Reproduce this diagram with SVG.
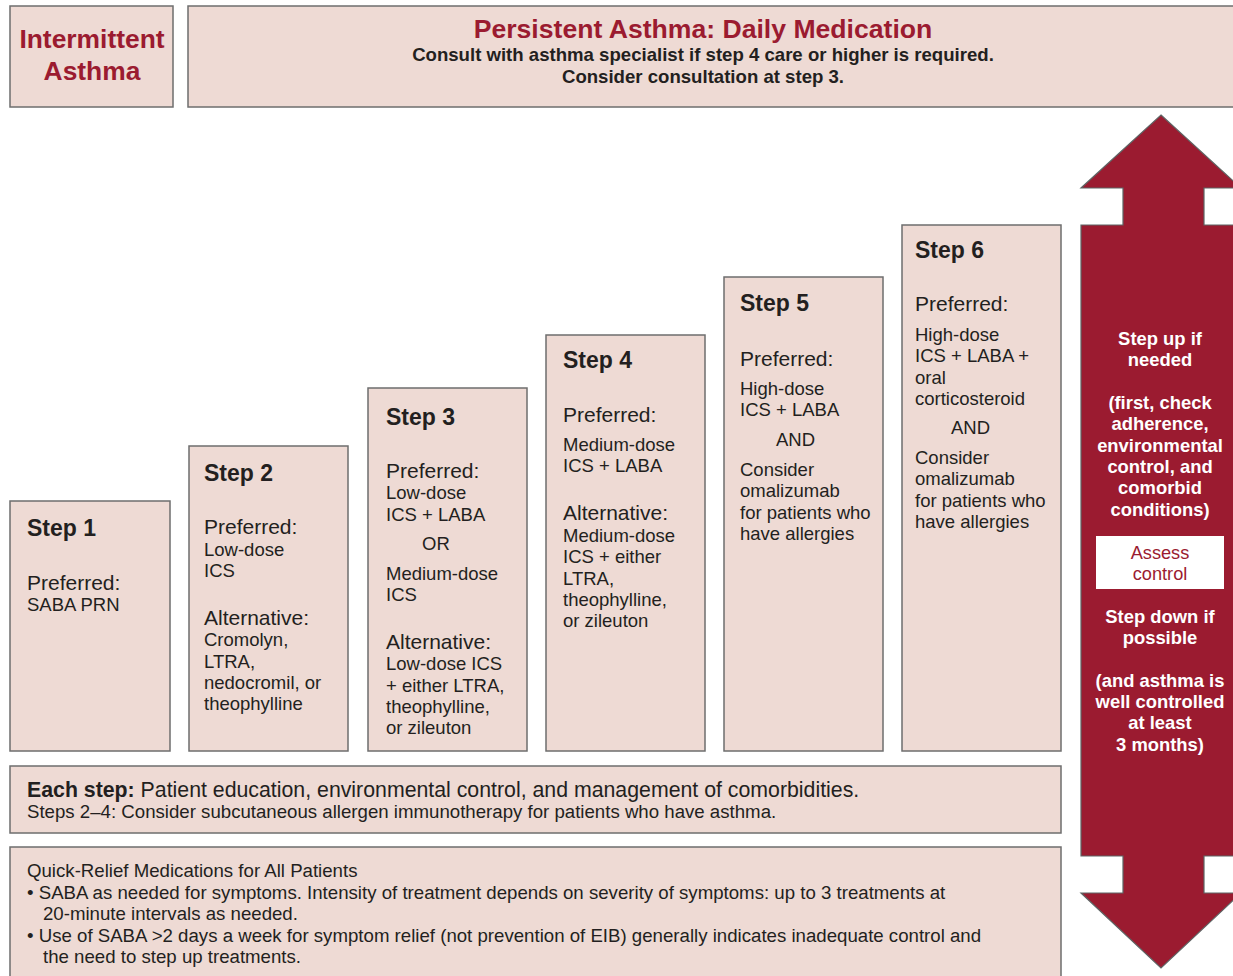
<svg xmlns="http://www.w3.org/2000/svg" width="1233" height="976" viewBox="0 0 1233 976">
<style>
.box{fill:#eedad4;stroke:#6e6e6e;stroke-width:1.5}
text{font-family:"Liberation Sans",Arial,sans-serif;fill:#231f20}
.red{fill:#9b1b30}
.h{font-weight:bold;font-size:23px}
.lbl{font-size:21px}
.t{font-size:18.5px}
.w{fill:#ffffff;font-weight:bold;font-size:18.4px;text-anchor:middle}
.s{font-size:18.65px}
</style>
<rect width="1233" height="976" fill="#ffffff"/>
<g id="intermittent">
<rect class="box" x="10" y="6" width="163" height="101"/>
<text class="red" x="92" y="48" font-size="26.4" font-weight="bold" text-anchor="middle">Intermittent</text>
<text class="red" x="92" y="80" font-size="26.4" font-weight="bold" text-anchor="middle">Asthma</text>
</g>
<g id="persistent">
<rect class="box" x="188" y="6" width="1050" height="101"/>
<text class="red" x="703" y="38" font-size="26.6" font-weight="bold" text-anchor="middle">Persistent Asthma: Daily Medication</text>
<text x="703" y="61" font-size="18.6" font-weight="bold" text-anchor="middle">Consult with asthma specialist if step 4 care or higher is required.</text>
<text x="703" y="83" font-size="18.6" font-weight="bold" text-anchor="middle">Consider consultation at step 3.</text>
</g>
<g id="arrow">
<path d="M1161,115 L1241,188 L1204,188 L1204,225 L1241,225 L1241,856 L1204,856 L1204,893 L1241,893 L1161,968 L1081,893 L1123,893 L1123,856 L1081,856 L1081,225 L1123,225 L1123,188 L1081,188 Z" fill="#9b1b30" stroke="#5e6464" stroke-width="1.2"/>
<text class="w" x="1160" y="345">Step up if</text>
<text class="w" x="1160" y="366">needed</text>
<text class="w" x="1160" y="409">(first, check</text>
<text class="w" x="1160" y="430">adherence,</text>
<text class="w" x="1160" y="452">environmental</text>
<text class="w" x="1160" y="473">control, and</text>
<text class="w" x="1160" y="494">comorbid</text>
<text class="w" x="1160" y="516">conditions)</text>
<rect x="1096" y="536" width="128" height="53" fill="#ffffff"/>
<text class="red" x="1160" y="559" font-size="18.2" text-anchor="middle">Assess</text>
<text class="red" x="1160" y="580" font-size="18.2" text-anchor="middle">control</text>
<text class="w" x="1160" y="623">Step down if</text>
<text class="w" x="1160" y="644">possible</text>
<text class="w" x="1160" y="687">(and asthma is</text>
<text class="w" x="1160" y="708">well controlled</text>
<text class="w" x="1160" y="729">at least</text>
<text class="w" x="1160" y="751">3 months)</text>
</g>
<g id="step1">
<rect class="box" x="10" y="501" width="160" height="250"/>
<text class="h" x="27" y="536">Step 1</text>
<text class="lbl" x="27" y="590">Preferred:</text>
<text class="t" x="27" y="611">SABA PRN</text>
</g>
<g id="step2">
<rect class="box" x="189" y="446" width="159" height="305"/>
<text class="h" x="204" y="481">Step 2</text>
<text class="lbl" x="204" y="534">Preferred:</text>
<text class="t" x="204" y="556">Low-dose</text>
<text class="t" x="204" y="577">ICS</text>
<text class="lbl" x="204" y="625">Alternative:</text>
<text class="t" x="204" y="646">Cromolyn,</text>
<text class="t" x="204" y="668">LTRA,</text>
<text class="t" x="204" y="689">nedocromil, or</text>
<text class="t" x="204" y="710">theophylline</text>
</g>
<g id="step3">
<rect class="box" x="368" y="388" width="159" height="363"/>
<text class="h" x="386" y="425">Step 3</text>
<text class="lbl" x="386" y="478">Preferred:</text>
<text class="t" x="386" y="499">Low-dose</text>
<text class="t" x="386" y="521">ICS + LABA</text>
<text class="t" x="422" y="550">OR</text>
<text class="t" x="386" y="580">Medium-dose</text>
<text class="t" x="386" y="601">ICS</text>
<text class="lbl" x="386" y="649">Alternative:</text>
<text class="t" x="386" y="670">Low-dose ICS</text>
<text class="t" x="386" y="692">+ either LTRA,</text>
<text class="t" x="386" y="713">theophylline,</text>
<text class="t" x="386" y="734">or zileuton</text>
</g>
<g id="step4">
<rect class="box" x="546" y="335" width="159" height="416"/>
<text class="h" x="563" y="368">Step 4</text>
<text class="lbl" x="563" y="422">Preferred:</text>
<text class="t" x="563" y="451">Medium-dose</text>
<text class="t" x="563" y="472">ICS + LABA</text>
<text class="lbl" x="563" y="520">Alternative:</text>
<text class="t" x="563" y="542">Medium-dose</text>
<text class="t" x="563" y="563">ICS + either</text>
<text class="t" x="563" y="585">LTRA,</text>
<text class="t" x="563" y="606">theophylline,</text>
<text class="t" x="563" y="627">or zileuton</text>
</g>
<g id="step5">
<rect class="box" x="724" y="277" width="159" height="474"/>
<text class="h" x="740" y="311">Step 5</text>
<text class="lbl" x="740" y="366">Preferred:</text>
<text class="t" x="740" y="395">High-dose</text>
<text class="t" x="740" y="416">ICS + LABA</text>
<text class="t" x="776" y="446">AND</text>
<text class="t" x="740" y="476">Consider</text>
<text class="t" x="740" y="497">omalizumab</text>
<text class="t" x="740" y="519">for patients who</text>
<text class="t" x="740" y="540">have allergies</text>
</g>
<g id="step6">
<rect class="box" x="902" y="225" width="159" height="526"/>
<text class="h" x="915" y="258">Step 6</text>
<text class="lbl" x="915" y="311">Preferred:</text>
<text class="t" x="915" y="341">High-dose</text>
<text class="t" x="915" y="362">ICS + LABA +</text>
<text class="t" x="915" y="384">oral</text>
<text class="t" x="915" y="405">corticosteroid</text>
<text class="t" x="951" y="434">AND</text>
<text class="t" x="915" y="464">Consider</text>
<text class="t" x="915" y="485">omalizumab</text>
<text class="t" x="915" y="507">for patients who</text>
<text class="t" x="915" y="528">have allergies</text>
</g>
<g id="each-step">
<rect class="box" x="10" y="766" width="1051" height="67"/>
<text x="27" y="797" font-size="21.3"><tspan font-weight="bold">Each step:</tspan> Patient education, environmental control, and management of comorbidities.</text>
<text class="s" x="27" y="818">Steps 2–4: Consider subcutaneous allergen immunotherapy for patients who have asthma.</text>
</g>
<g id="quick-relief">
<rect class="box" x="10" y="847" width="1051" height="140"/>
<text class="s" x="27" y="877">Quick-Relief Medications for All Patients</text>
<text class="s" x="27" y="899">• SABA as needed for symptoms. Intensity of treatment depends on severity of symptoms: up to 3 treatments at</text>
<text class="s" x="43" y="920">20-minute intervals as needed.</text>
<text class="s" x="27" y="942">• Use of SABA &gt;2 days a week for symptom relief (not prevention of EIB) generally indicates inadequate control and</text>
<text class="s" x="43" y="963">the need to step up treatments.</text>
</g>
</svg>
